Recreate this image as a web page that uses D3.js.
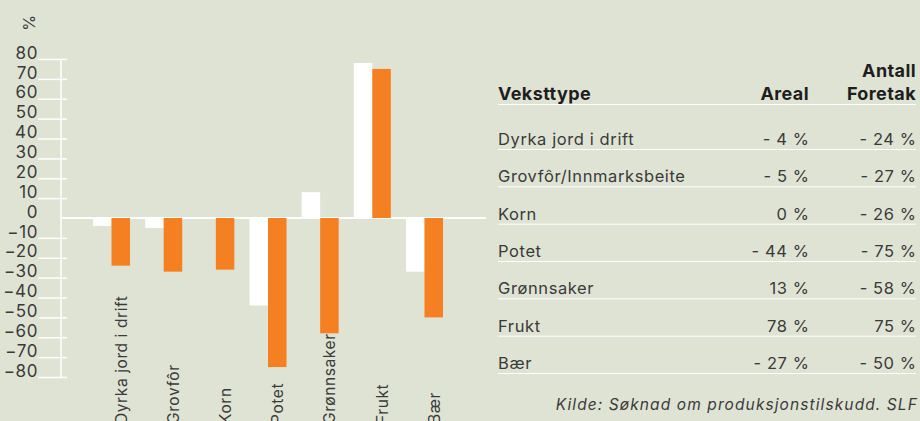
<!DOCTYPE html>
<html>
<head>
<meta charset="utf-8">
<script src="https://cdn.jsdelivr.net/npm/d3@7"></script>
<style>
  html, body { margin: 0; padding: 0; background: #dfe3d4; }
  svg { display: block; font-family: Inter, "Open Sans", sans-serif; }
</style>
</head>
<body>
<svg id="chart" width="920" height="421"></svg>
<script>
var categories = ["Dyrka jord i drift", "Grovfôr", "Korn", "Potet", "Grønnsaker", "Frukt", "Bær"];
var tableLabels = ["Dyrka jord i drift", "Grovfôr/Innmarksbeite", "Korn", "Potet", "Grønnsaker", "Frukt", "Bær"];
var areal = [-4, -5, 0, -44, 13, 78, -27];
var foretak = [-24, -27, -26, -75, -58, 75, -50];
var yTicks = [80, 70, 60, 50, 40, 30, 20, 10, 0, -10, -20, -30, -40, -50, -60, -70, -80];

var orange = "#f58021",
  textColor = "#3a3a3a";

var svg = d3.select("#chart");

var y = d3.scaleLinear().domain([-80, 80]).range([377, 59]);
var x = d3.scaleBand().domain(categories).range([93, 443]).paddingInner(0.29);
var xs = d3.scaleBand().domain(["areal", "foretak"]).range([0, x.bandwidth()]);

// y axis
var yAxis = svg.append("g")
  .attr("transform", "translate(61,0)")
  .call(d3.axisLeft(y).tickValues(yTicks).tickSize(23).tickPadding(0));

yAxis.select(".domain").remove();
yAxis.selectAll(".tick line")
  .attr("x2", -23).attr("x1", 6)
  .attr("stroke", "#fff").attr("stroke-width", 1.5);
yAxis.selectAll(".tick").filter(function (d) { return d === 0; }).select("line").remove();
yAxis.selectAll(".tick text")
  .attr("x", -23)
  .attr("dy", "-0.05em")
  .attr("fill", textColor)
  .style("font-size", "17px")
  .style("letter-spacing", "0.6px")
  .style("font-family", "Inter, sans-serif");

svg.append("line")
  .attr("x1", 61).attr("x2", 61)
  .attr("y1", y(80)).attr("y2", y(-80))
  .attr("stroke", "#fff").attr("stroke-width", 1.5);

svg.append("text")
  .attr("transform", "translate(29,23) rotate(-90)")
  .attr("text-anchor", "middle")
  .attr("dy", "0.35em")
  .attr("fill", textColor)
  .style("font-size", "16px")
  .text("%");

// zero line
svg.append("line")
  .attr("x1", 60).attr("x2", 486)
  .attr("y1", y(0)).attr("y2", y(0))
  .attr("stroke", "#fff").attr("stroke-width", 2);

// bars
var groups = svg.append("g").selectAll("g")
  .data(categories)
  .join("g")
  .attr("transform", function (d) { return "translate(" + x(d) + ",0)"; });

groups.append("rect")
  .attr("x", xs("areal"))
  .attr("width", xs.bandwidth())
  .attr("y", function (d, i) { return y(Math.max(0, areal[i])); })
  .attr("height", function (d, i) { return Math.abs(y(areal[i]) - y(0)); })
  .attr("fill", "#fff");

groups.append("rect")
  .attr("x", xs("foretak"))
  .attr("width", xs.bandwidth())
  .attr("y", function (d, i) { return y(Math.max(0, foretak[i])); })
  .attr("height", function (d, i) { return Math.abs(y(foretak[i]) - y(0)); })
  .attr("fill", orange);

// category labels, rotated (cut by the bottom edge as in the original)
groups.append("text")
  .attr("transform", "translate(" + (xs("foretak") + xs.bandwidth() / 2 + 6) + ",424) rotate(-90)")
  .attr("fill", textColor)
  .style("font-size", "15.5px")
  .style("letter-spacing", "0.6px")
  .text(function (d) { return d; });

// table
function fmt(v) {
  return v < 0 ? "- " + Math.abs(v) + " %" : v + " %";
}

var tLeft = 498, tRight = 916, colA = 809, colB = 916;
var rowY = d3.scaleLinear().domain([0, 6]).range([145, 369]);

var head = svg.append("g").attr("fill", "#1e1e1e")
  .style("font-size", "18px").style("font-weight", "700")
  .style("letter-spacing", "0.4px");
head.append("text").attr("x", tLeft).attr("y", 100).text("Veksttype");
head.append("text").attr("x", colA).attr("y", 100).attr("text-anchor", "end").text("Areal");
head.append("text").attr("x", colB).attr("y", 77).attr("text-anchor", "end").text("Antall");
head.append("text").attr("x", colB).attr("y", 100).attr("text-anchor", "end").text("Foretak");
svg.append("line")
  .attr("x1", tLeft).attr("x2", tRight).attr("y1", 104.5).attr("y2", 104.5)
  .attr("stroke", "#fff").attr("stroke-width", 1);

var rows = svg.append("g").selectAll("g")
  .data(tableLabels)
  .join("g")
  .attr("transform", function (d, i) { return "translate(0," + rowY(i) + ")"; })
  .attr("fill", textColor)
  .style("font-size", "16.5px")
  .style("letter-spacing", "0.6px");

rows.append("text").attr("x", tLeft).text(function (d) { return d; });
rows.append("text").attr("x", colA + 0.6).attr("text-anchor", "end")
  .text(function (d, i) { return fmt(areal[i]); });
rows.append("text").attr("x", colB + 0.6).attr("text-anchor", "end")
  .text(function (d, i) { return fmt(foretak[i]); });
rows.append("line")
  .attr("x1", tLeft).attr("x2", tRight).attr("y1", 4.5).attr("y2", 4.5)
  .attr("stroke", "#fff").attr("stroke-width", 1);

svg.append("text")
  .attr("x", 918).attr("y", 410)
  .attr("text-anchor", "end")
  .attr("fill", textColor)
  .style("font-size", "15.5px")
  .style("font-style", "italic")
  .style("letter-spacing", "1.1px")
  .text("Kilde: Søknad om produksjonstilskudd. SLF");
</script>
</body>
</html>
